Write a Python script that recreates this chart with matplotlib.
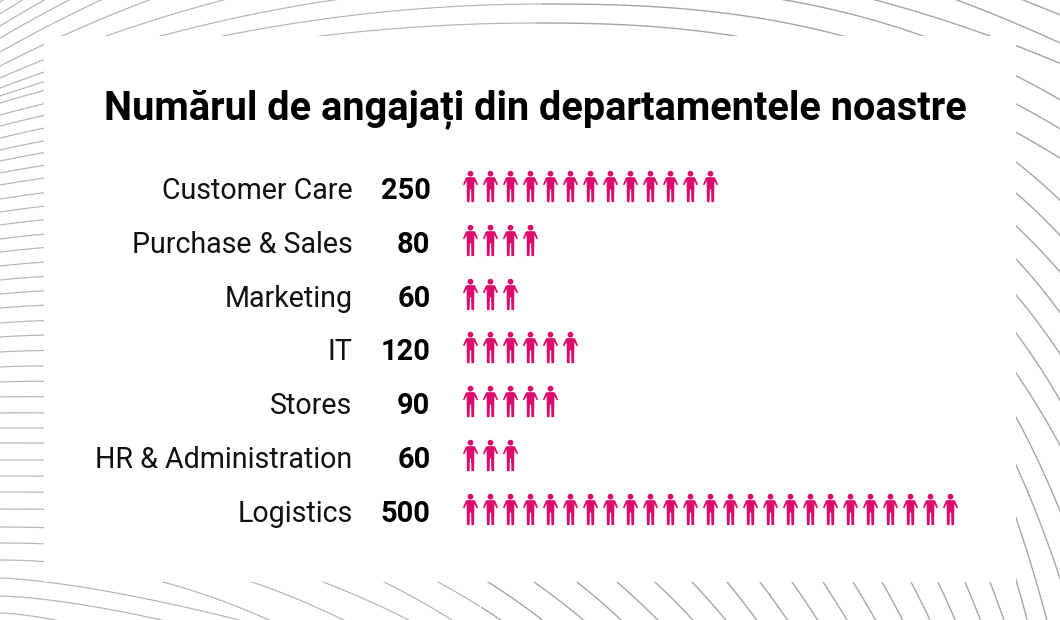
import numpy as np
import matplotlib
matplotlib.use("Agg")
import matplotlib.pyplot as plt
from matplotlib.path import Path
from matplotlib.patches import Rectangle

plt.rcParams["font.family"] = ["Roboto", "DejaVu Sans"]

TITLE = "Numărul de angajați din departamentele noastre"
departments = ["Customer Care", "Purchase & Sales", "Marketing", "IT",
               "Stores", "HR & Administration", "Logistics"]
employees = [250, 80, 60, 120, 90, 60, 500]
icon_counts = [13, 4, 3, 6, 5, 3, 25]

PINK = "#DC0A6B"
W, H = 1060, 620
ROW_Y = 191
ROW_STEP = 53.8
ICON_X = 470
ICON_STEP = 20

# background arcs: (x=0 height, peak height, peak x, anchor x, anchor y, power)
ARCS_TOP = [
    (2, -190, 575, None, None, None), (14, -170, 575, None, None, None),
    (26, -150, 575, None, None, None), (38, -130, 575, None, None, None),
    (52, -110, 574, 1023, 0, 1.6), (66, -78, 565, 957, 0, 1.88),
    (78, -43, 553, 990, 36, 2.0), (88, -16, 549, 923, 36, 2.56),
    (96, 4, 543, 843, 36, 2.5), (103, 23, 537, 735, 36, 2.41),
]
LEFT_Y = [115, 126, 138, 150, 161, 173, 185, 199, 212, 225, 239, 252, 266, 280, 294, 308,
          323, 337, 352, 367, 382, 397, 413, 428, 443, 460, 476, 492, 509, 527, 543, 560]
RIGHT_Y = [162, 193, 226, 259, 295, 333, 373, 417, 465, 518, 580]
RIGHT_SLOPE = [0.78, 0.86, 0.93, 1.07, 1.18, 1.34, 1.45, 1.84, 2.2, 2.9, 3.4]
BOTTOM_X = [990, 965, 938, 911, 882, 853, 823, 792, 760, 727, 692,
            655, 617, 577, 534, 488, 438, 384, 323, 252, 163]
BOTTOM_SLOPE = [2.6, 2.35, 2.1, 1.9, 1.75, 1.6, 1.5, 1.4, 1.3, 1.2, 1.05,
                0.93, 0.86, 0.79, 0.70, 0.63, 0.54, 0.49, 0.38, 0.34, 0.27]
ARCS_LOW = [(578, 235, 619, 1.43), (596, 157, 619, 1.5), (613, 50, 619, 1.5)]


def person_marker():
    # little person, units are pixels, origin mid height
    t = np.linspace(0, 2 * np.pi, 25)
    head = np.column_stack([2.9 * np.cos(t), 12.9 + 2.9 * np.sin(t)])
    body = np.array([
        (-3.6, 9.4), (3.6, 9.4), (4.8, 8.6), (7.6, 2.0), (6.3, 1.2), (3.9, 5.6),
        (3.8, -1.5), (3.6, -15.7), (0.9, -15.7), (0.6, -3.0), (-0.6, -3.0),
        (-0.9, -15.7), (-3.6, -15.7), (-3.8, -1.5), (-3.9, 5.6), (-6.3, 1.2),
        (-7.6, 2.0), (-4.8, 8.6), (-3.6, 9.4),
    ])
    verts = np.vstack([head, body])
    codes = ([Path.MOVETO] + [Path.LINETO] * (len(head) - 1)
             + [Path.MOVETO] + [Path.LINETO] * (len(body) - 1))
    return Path(verts, codes)


def draw_arc(ax, y0, p, cx, xa, ya, m):
    # parabola left of the peak, power curve through the anchor right of it
    if cx > 0:
        xl = np.linspace(0, cx, 150)
        yl = p + (y0 - p) * ((cx - xl) / cx) ** 2
        ax.plot(xl, yl, color="#B4B4B4", lw=0.85, zorder=1)
    if xa is None:
        return
    xr = np.linspace(max(cx, 0), W + 2, 400)
    yr = p + (ya - p) * ((xr - cx) / (xa - cx)) ** m
    left = xr < 480
    ax.plot(xr[left], yr[left], color="#B4B4B4", lw=0.85, zorder=1)
    ax.plot(xr[~left], yr[~left], color="#A6A6A6", lw=1.0, zorder=1)


def draw_background(ax):
    for arc in ARCS_TOP:
        draw_arc(ax, *arc)

    # index along the lower arcs, 0 is the first one below the top group
    idx = np.arange(len(LEFT_Y))
    cx_all = np.interp(idx, [0, 3, 7, 12, 17, 23], [500, 340, 200, 120, 60, 0])
    s0_all = np.interp(idx, [0, 7, 12, 23], [0.27, 0.16, 0.11, 0.02])
    for i, y0 in enumerate(LEFT_Y):
        cx = cx_all[i]
        p = y0 - s0_all[i] * cx / 2
        if i < len(RIGHT_Y):
            xa, ya, s = 1016, RIGHT_Y[i], RIGHT_SLOPE[i]
        else:
            xa, ya, s = BOTTOM_X[i - len(RIGHT_Y)], 582, BOTTOM_SLOPE[i - len(RIGHT_Y)]
        m = s * (xa - cx) / (ya - p)
        draw_arc(ax, y0, p, cx, xa, ya, m)

    for y0, xa, ya, m in ARCS_LOW:
        draw_arc(ax, y0, y0, 0, xa, ya, m)

    ax.add_patch(Rectangle((44, 36), 972, 546, fc="white", ec="none", zorder=2))


fig = plt.figure(figsize=(W / 100, H / 100), dpi=100)
ax = fig.add_axes([0, 0, 1, 1])
ax.set_xlim(0, W)
ax.set_ylim(H, 0)
ax.axis("off")

draw_background(ax)

ax.text(535, 109, TITLE, fontsize=28.65, fontweight="bold", color="black",
        ha="center", va="center", zorder=3)

marker = person_marker()
for i, (name, value, n) in enumerate(zip(departments, employees, icon_counts)):
    y = ROW_Y + i * ROW_STEP
    ax.text(352.5, y, name, fontsize=20.6, color="#111111", ha="right", va="center", zorder=3)
    ax.text(430.5, y, str(value), fontsize=20.9, fontweight="bold", color="black",
            ha="right", va="center", zorder=3)
    xs = ICON_X + ICON_STEP * np.arange(n)
    ax.plot(xs, np.full(n, y - 5), ls="none", marker=marker, ms=2 * 15.7 * 0.72,
            color=PINK, mew=0, zorder=3)

fig.savefig("out.png", dpi=100)
